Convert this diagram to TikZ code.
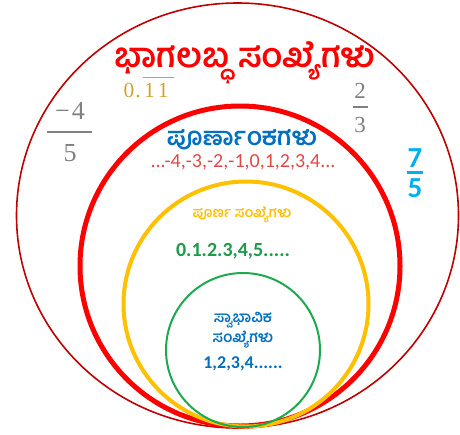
\documentclass[tikz,border=0pt]{standalone}
\usepackage{fontspec}
\setmainfont{Carlito}
\newfontfamily\kn[Script=Kannada]{Hind Mysuru}
\newfontfamily\serf{Liberation Serif}
\definecolor{outerred}{HTML}{C00000}
\definecolor{brightred}{HTML}{FF0000}
\definecolor{goldring}{HTML}{FFC000}
\definecolor{greenring}{HTML}{1DAA4E}
\definecolor{bluetxt}{HTML}{0070C0}
\definecolor{cyantxt}{HTML}{00B0F0}
\definecolor{graytxt}{HTML}{808080}
\definecolor{goldtxt}{HTML}{CCA430}
\definecolor{inttxt}{HTML}{E04848}
\definecolor{greentxt}{HTML}{1E9A4A}
\tikzset{
  ring/.style={draw},
  lbl/.style={inner sep=0pt, anchor=base, align=center},
  kan/.style={lbl, text height=#1, text depth=0.25*#1},
}
\begin{document}
\begin{tikzpicture}[x=1pt,y=-1pt]
\useasboundingbox (0,0) rectangle (460,434);
\fill[white] (0,0) rectangle (460,434);
% rings
\draw[ring, outerred, line width=1.6pt] (237.5,215.5) circle[x radius=221pt, y radius=212.5pt];
\draw[ring, brightred, line width=5pt] (240,266) circle[radius=160pt];
\draw[ring, goldring, line width=4pt] (246,304) circle[radius=122.5pt];
\draw[ring, greenring, line width=2pt] (243,350) circle[radius=77pt];
% title
\node[kan=24pt, text=brightred, font=\kn\bfseries\fontsize{34}{36}\selectfont] (title) at (245,67) {ಭಾಗಲಬ್ಧ ಸಂಖ್ಯೆಗಳು};
% 0.11 repeating
\node[lbl, anchor=base east, text=goldtxt, font=\serf\fontsize{21.5}{23}\selectfont] (rep0) at (141,97) {0\kern1pt.};
\node[lbl, anchor=base west, text=goldtxt, font=\serf\fontsize{21.5}{23}\selectfont] (rep1) at (144,97) {1\kern3pt 1};
\draw[goldtxt, line width=1.4pt] (143,77.5) -- (173.5,77.5);
% -4/5
\node[lbl, text=graytxt, font=\serf\fontsize{26}{28}\selectfont] (faN) at (70,119) {−\kern2pt 4};
\node[lbl, text=graytxt, font=\serf\fontsize{26}{28}\selectfont] (faD) at (70,161) {5};
\draw[graytxt, line width=1.6pt] (47,132) -- (92,132);
% 2/3
\node[lbl, text=graytxt, font=\serf\fontsize{23}{25}\selectfont] (fbN) at (360,98) {2};
\node[lbl, text=graytxt, font=\serf\fontsize{23}{25}\selectfont] (fbD) at (360,132) {3};
\draw[graytxt, line width=1.3pt] (353,107) -- (368,107);
% 7/5
\node[lbl, text=cyantxt, font=\bfseries\fontsize{29}{30}\selectfont] (fcN) at (415,167) {7};
\node[lbl, text=cyantxt, font=\bfseries\fontsize{29}{30}\selectfont] (fcD) at (415,197) {5};
\draw[cyantxt, line width=2.2pt] (407,172.5) -- (423,172.5);
% integers
\node[kan=17pt, text=bluetxt, font=\kn\bfseries\fontsize{25}{27}\selectfont] (intname) at (242,145) {ಪೂರ್ಣಾಂಕಗಳು};
\node[lbl, text=inttxt, font=\fontsize{20}{22}\selectfont] (ints) at (243,167) {...-4,-3,-2,-1,0,1,2,3,4...};
% whole numbers
\node[kan=10pt, text=goldring, font=\kn\bfseries\fontsize{14}{16}\selectfont] (wholename) at (242,217) {ಪೂರ್ಣ ಸಂಖ್ಯೆಗಳು};
\node[lbl, text=greentxt, font=\bfseries\fontsize{20}{22}\selectfont] (wholes) at (233,256) {0.1.2.3,4,5.....};
% natural numbers
\node[kan=10pt, text=bluetxt, font=\kn\bfseries\fontsize{15}{17}\selectfont] (natA) at (243,322) {ಸ್ವಾಭಾವಿಕ};
\node[kan=10pt, text=bluetxt, font=\kn\bfseries\fontsize{15}{17}\selectfont] (natB) at (243,342) {ಸಂಖ್ಯೆಗಳು};
\node[lbl, text=bluetxt, font=\bfseries\fontsize{18}{20}\selectfont] (nats) at (243,368) {1,2,3,4......};
\end{tikzpicture}
\end{document}
